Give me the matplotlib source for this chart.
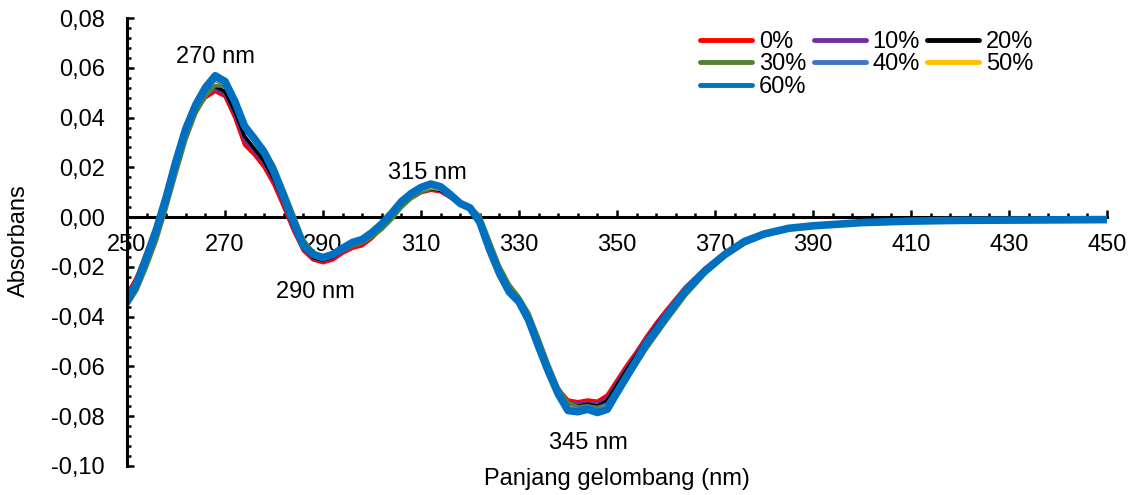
import numpy as np
import matplotlib.pyplot as plt
from matplotlib.ticker import MultipleLocator, FixedLocator, FuncFormatter

plt.rcParams['font.family'] = ['Liberation Sans', 'DejaVu Sans']

# wavelength (nm)
wl = [250,252,254,256,258,260,262,264,266,268,270,272,274,276,278,280,282,284,286,288,
	290,292,294,296,298,300,302,304,306,308,310,312,314,316,318,320,322,324,326,328,
	330,332,334,336,338,340,342,344,346,348,350,352,354,356,358,360,364,368,372,376,
	380,385,390,400,410,420,430,440,450]

s0 = [-0.0310,-0.0240,-0.0140,-0.0035,0.0085,0.0220,0.0340,0.0425,0.0480,0.0505,
	0.0485,0.0400,0.0290,0.0250,0.0200,0.0130,0.0040,-0.0055,-0.0135,-0.0172,
	-0.0183,-0.0172,-0.0145,-0.0125,-0.0115,-0.0085,-0.0045,0.0000,0.0045,0.0075,
	0.0098,0.0108,0.0102,0.0078,0.0050,0.0035,-0.0018,-0.0125,-0.0220,-0.0290,
	-0.0330,-0.0405,-0.0505,-0.0605,-0.0690,-0.0735,-0.0742,-0.0735,-0.0740,-0.0715,
	-0.0655,-0.0595,-0.0540,-0.0480,-0.0425,-0.0375,-0.0280,-0.0205,-0.0145,-0.0100,
	-0.0072,-0.0050,-0.0038,-0.0025,-0.0019,-0.0016,-0.0014,-0.0013,-0.0012]

s10 = [-0.0320,-0.0250,-0.0150,-0.0042,0.0082,0.0220,0.0342,0.0430,0.0488,0.0515,
	0.0495,0.0415,0.0310,0.0265,0.0215,0.0145,0.0055,-0.0045,-0.0128,-0.0165,
	-0.0175,-0.0163,-0.0137,-0.0115,-0.0105,-0.0078,-0.0040,0.0004,0.0050,0.0080,
	0.0102,0.0112,0.0106,0.0081,0.0052,0.0036,-0.0019,-0.0127,-0.0222,-0.0293,
	-0.0333,-0.0408,-0.0508,-0.0610,-0.0697,-0.0744,-0.0752,-0.0745,-0.0751,-0.0728,
	-0.0665,-0.0605,-0.0548,-0.0488,-0.0432,-0.0382,-0.0285,-0.0207,-0.0146,-0.0099,
	-0.0071,-0.0049,-0.0037,-0.0024,-0.0018,-0.0015,-0.0013,-0.0012,-0.0011]

s20 = [-0.0325,-0.0255,-0.0153,-0.0045,0.0080,0.0220,0.0345,0.0435,0.0495,0.0525,
	0.0505,0.0425,0.0325,0.0275,0.0225,0.0152,0.0060,-0.0040,-0.0125,-0.0162,
	-0.0173,-0.0160,-0.0133,-0.0112,-0.0100,-0.0073,-0.0036,0.0007,0.0052,0.0083,
	0.0105,0.0115,0.0108,0.0083,0.0053,0.0036,-0.0020,-0.0128,-0.0223,-0.0295,
	-0.0335,-0.0410,-0.0512,-0.0613,-0.0702,-0.0752,-0.0760,-0.0752,-0.0760,-0.0738,
	-0.0675,-0.0613,-0.0555,-0.0495,-0.0438,-0.0388,-0.0288,-0.0209,-0.0147,-0.0099,
	-0.0070,-0.0048,-0.0036,-0.0023,-0.0017,-0.0014,-0.0013,-0.0012,-0.0011]

s30 = [-0.0355,-0.0295,-0.0200,-0.0095,0.0035,0.0175,0.0310,0.0415,0.0485,0.0528,
	0.0525,0.0460,0.0370,0.0320,0.0275,0.0205,0.0110,0.0010,-0.0090,-0.0140,
	-0.0160,-0.0155,-0.0135,-0.0115,-0.0103,-0.0080,-0.0050,-0.0010,0.0038,0.0075,
	0.0100,0.0115,0.0113,0.0092,0.0060,0.0042,0.0005,-0.0095,-0.0195,-0.0270,
	-0.0320,-0.0385,-0.0485,-0.0590,-0.0685,-0.0745,-0.0762,-0.0758,-0.0765,-0.0752,
	-0.0700,-0.0645,-0.0590,-0.0530,-0.0475,-0.0420,-0.0315,-0.0228,-0.0160,-0.0108,
	-0.0075,-0.0050,-0.0038,-0.0024,-0.0017,-0.0014,-0.0012,-0.0011,-0.0010]

s40 = [-0.0335,-0.0262,-0.0158,-0.0050,0.0078,0.0220,0.0348,0.0440,0.0505,0.0550,
	0.0528,0.0450,0.0355,0.0305,0.0252,0.0175,0.0078,-0.0020,-0.0112,-0.0147,
	-0.0160,-0.0148,-0.0123,-0.0101,-0.0090,-0.0064,-0.0030,0.0010,0.0056,0.0088,
	0.0108,0.0120,0.0112,0.0086,0.0054,0.0037,-0.0020,-0.0128,-0.0222,-0.0296,
	-0.0336,-0.0411,-0.0514,-0.0617,-0.0705,-0.0760,-0.0770,-0.0763,-0.0772,-0.0752,
	-0.0690,-0.0627,-0.0568,-0.0505,-0.0450,-0.0398,-0.0296,-0.0213,-0.0149,-0.0099,
	-0.0069,-0.0047,-0.0035,-0.0022,-0.0016,-0.0013,-0.0012,-0.0011,-0.0010]

s50 = [-0.0330,-0.0260,-0.0157,-0.0048,0.0080,0.0222,0.0350,0.0443,0.0510,0.0555,
	0.0535,0.0458,0.0362,0.0312,0.0258,0.0178,0.0078,-0.0022,-0.0110,-0.0143,
	-0.0155,-0.0143,-0.0118,-0.0097,-0.0086,-0.0060,-0.0026,0.0013,0.0058,0.0090,
	0.0110,0.0121,0.0112,0.0083,0.0048,0.0030,-0.0035,-0.0150,-0.0245,-0.0310,
	-0.0350,-0.0428,-0.0532,-0.0635,-0.0718,-0.0765,-0.0775,-0.0768,-0.0778,-0.0760,
	-0.0695,-0.0632,-0.0572,-0.0510,-0.0455,-0.0402,-0.0298,-0.0214,-0.0150,-0.0100,
	-0.0070,-0.0047,-0.0035,-0.0022,-0.0016,-0.0013,-0.0012,-0.0011,-0.0010]

s60 = [-0.0340,-0.0265,-0.0160,-0.0050,0.0080,0.0225,0.0355,0.0450,0.0520,0.0568,
	0.0545,0.0465,0.0365,0.0315,0.0260,0.0180,0.0080,-0.0020,-0.0115,-0.0150,
	-0.0163,-0.0150,-0.0125,-0.0102,-0.0090,-0.0062,-0.0027,0.0015,0.0062,0.0095,
	0.0119,0.0133,0.0122,0.0090,0.0055,0.0037,-0.0020,-0.0130,-0.0225,-0.0300,
	-0.0340,-0.0415,-0.0520,-0.0620,-0.0710,-0.0777,-0.0782,-0.0772,-0.0785,-0.0772,
	-0.0705,-0.0640,-0.0575,-0.0508,-0.0455,-0.0400,-0.0295,-0.0215,-0.0150,-0.0098,
	-0.0068,-0.0045,-0.0035,-0.0022,-0.0016,-0.0013,-0.0012,-0.0011,-0.0010]

labels = ['0%','10%','20%','30%','40%','50%','60%']
colors = ['#FF0000','#7030A0','#000000','#548235','#4472C4','#FFC000','#0070C0']
series = [s0,s10,s20,s30,s40,s50,s60]

# peak labels
peak_txt = ['270 nm','315 nm','290 nm','345 nm']
peak_x = [268.0,311.4,288.4,344.1]
peak_y = [0.0643,0.0177,-0.0301,-0.0908]

fs = 17

fig = plt.figure(figsize=(11.32,4.95),dpi=100)
ax = fig.add_axes([0.1122,0.0586,0.8657,0.905])

lines = []
for i in range(len(series)):
	lw = 5.5 if labels[i]=='60%' else 2.6
	l, = ax.plot(wl,series[i],color=colors[i],lw=lw,label=labels[i],solid_capstyle='round',solid_joinstyle='round')
	lines.append(l)

for i in range(len(peak_txt)):
	ax.text(peak_x[i],peak_y[i],peak_txt[i],ha='center',va='center',fontsize=fs)

ax.set_xlim(250,450)
ax.set_ylim(-0.10,0.08)
ax.spines['bottom'].set_position(('data',0))
ax.spines['top'].set_visible(False)
ax.spines['right'].set_visible(False)
ax.spines['bottom'].set_linewidth(2.2)
ax.spines['left'].set_linewidth(2.2)
ax.spines['bottom'].set_zorder(0.5)

ax.xaxis.set_major_locator(FixedLocator(np.arange(250,451,20)))
ax.xaxis.set_minor_locator(FixedLocator(np.arange(250,451,4)))
ax.yaxis.set_major_locator(MultipleLocator(0.02))
ax.yaxis.set_minor_locator(MultipleLocator(0.004))
ax.yaxis.set_major_formatter(FuncFormatter(lambda v,p: ('%.2f'%v).replace('.',',').replace('-0,00','0,00')))
ax.tick_params(which='both',direction='in',width=1.8,labelsize=fs)
ax.tick_params(which='major',length=5)
ax.tick_params(which='minor',length=3)
ax.tick_params(axis='x',which='major',pad=12)
ax.tick_params(axis='y',which='major',pad=16)

fig.text(617/1132,1-479/495,'Panjang gelombang (nm)',ha='center',va='center',fontsize=fs)
fig.text(19/1132,1-241/495,'Absorbans',ha='center',va='center',rotation=90,fontsize=fs)

# legend fills by column, so reorder to read row by row
order = [0,3,6,1,4,2,5]
leg = ax.legend([lines[k] for k in order],[labels[k] for k in order],ncol=3,loc='upper left',
	bbox_to_anchor=(700/1132,1-31/495),bbox_transform=fig.transFigure,
	frameon=False,fontsize=fs,handlelength=2.2,handletextpad=0.3,columnspacing=0.3,labelspacing=0.02,borderpad=0,borderaxespad=0)
for h in leg.get_lines():
	h.set_linewidth(3.5)

plt.savefig('out.png',dpi=100)
